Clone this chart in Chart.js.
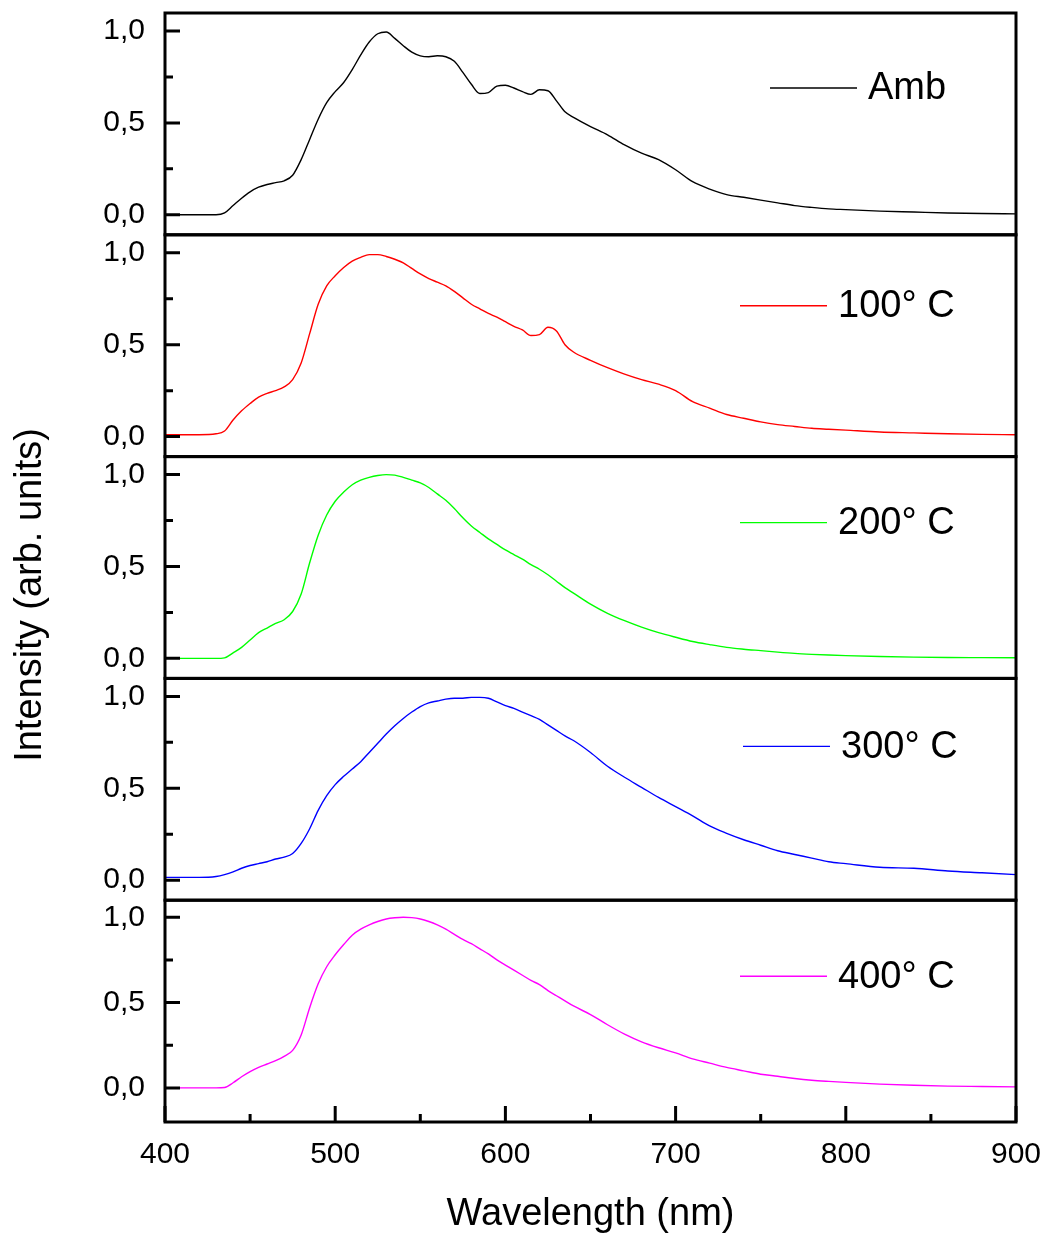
<!DOCTYPE html>
<html>
<head>
<meta charset="utf-8">
<script src="https://cdn.jsdelivr.net/npm/chart.js@4"></script>
<style>
  html, body { margin: 0; padding: 0; background: #fff; }
  canvas { display: block; }
</style>
</head>
<body>
<canvas id="spectra" width="1045" height="1237"></canvas>
<script>
// Wavelength grid (nm) shared by all spectra
const wavelength = [400, 410, 420, 430, 435, 440, 445, 450, 455, 460, 465, 470, 475, 480, 485, 490, 495,
  500, 505, 510, 515, 520, 525, 530, 535, 540, 545, 550, 555, 560, 565, 570, 575, 580, 585, 590, 595,
  600, 605, 610, 615, 620, 625, 630, 635, 640, 650, 660, 670, 680, 690, 700, 710, 720, 730, 740, 750,
  760, 770, 780, 790, 800, 820, 840, 860, 880, 900];

// Normalised intensity
const amb = [0.0, 0.0, 0.0, 0.0, 0.01, 0.05, 0.09, 0.125, 0.15, 0.165, 0.175, 0.185, 0.215, 0.30, 0.41, 0.52, 0.61,
  0.67, 0.72, 0.79, 0.87, 0.94, 0.985, 0.995, 0.96, 0.92, 0.885, 0.865, 0.86, 0.865, 0.86, 0.835, 0.775, 0.71, 0.66, 0.665, 0.70,
  0.705, 0.69, 0.67, 0.655, 0.68, 0.675, 0.62, 0.56, 0.53, 0.48, 0.435, 0.38, 0.335, 0.30, 0.245, 0.18, 0.14, 0.11, 0.095, 0.08,
  0.065, 0.05, 0.04, 0.032, 0.028, 0.02, 0.015, 0.01, 0.007, 0.005];

const t100 = [0.01, 0.01, 0.01, 0.015, 0.03, 0.09, 0.14, 0.18, 0.215, 0.235, 0.25, 0.27, 0.31, 0.40, 0.56, 0.72, 0.82,
  0.875, 0.92, 0.955, 0.975, 0.99, 0.99, 0.98, 0.965, 0.945, 0.915, 0.885, 0.86, 0.84, 0.82, 0.79, 0.755, 0.72, 0.695, 0.67, 0.65,
  0.625, 0.60, 0.58, 0.55, 0.555, 0.595, 0.575, 0.50, 0.46, 0.415, 0.375, 0.34, 0.31, 0.285, 0.25, 0.19, 0.155, 0.12, 0.10, 0.08,
  0.065, 0.055, 0.045, 0.04, 0.035, 0.025, 0.02, 0.015, 0.012, 0.01];

const t200 = [0.0, 0.0, 0.0, 0.0, 0.003, 0.03, 0.06, 0.10, 0.14, 0.165, 0.19, 0.21, 0.255, 0.35, 0.52, 0.67, 0.78,
  0.855, 0.905, 0.945, 0.97, 0.985, 0.995, 1.0, 0.997, 0.985, 0.97, 0.955, 0.93, 0.895, 0.86, 0.815, 0.765, 0.72, 0.685, 0.65, 0.62,
  0.59, 0.565, 0.54, 0.51, 0.485, 0.455, 0.42, 0.385, 0.355, 0.295, 0.245, 0.205, 0.17, 0.14, 0.115, 0.092, 0.075, 0.06, 0.05, 0.042,
  0.034, 0.027, 0.022, 0.018, 0.015, 0.01, 0.007, 0.005, 0.004, 0.003];

const t300 = [0.015, 0.015, 0.015, 0.02, 0.03, 0.045, 0.065, 0.08, 0.09, 0.10, 0.115, 0.125, 0.145, 0.20, 0.28, 0.38, 0.46,
  0.52, 0.565, 0.605, 0.645, 0.695, 0.745, 0.795, 0.84, 0.88, 0.915, 0.945, 0.965, 0.975, 0.985, 0.99, 0.99, 0.995, 0.995, 0.99, 0.97,
  0.95, 0.935, 0.915, 0.895, 0.875, 0.845, 0.815, 0.785, 0.76, 0.695, 0.62, 0.56, 0.505, 0.45, 0.40, 0.35, 0.295, 0.255, 0.22, 0.19,
  0.16, 0.14, 0.12, 0.10, 0.09, 0.07, 0.065, 0.05, 0.04, 0.03];

const t400 = [0.0, 0.0, 0.0, 0.0, 0.002, 0.03, 0.065, 0.095, 0.12, 0.14, 0.16, 0.185, 0.22, 0.31, 0.47, 0.61, 0.71,
  0.78, 0.84, 0.895, 0.93, 0.955, 0.975, 0.99, 0.997, 1.0, 0.998, 0.99, 0.975, 0.955, 0.93, 0.90, 0.87, 0.845, 0.815, 0.785, 0.75,
  0.72, 0.69, 0.66, 0.63, 0.605, 0.57, 0.54, 0.51, 0.48, 0.43, 0.37, 0.315, 0.27, 0.235, 0.205, 0.17, 0.145, 0.12, 0.10, 0.08,
  0.068, 0.055, 0.045, 0.038, 0.032, 0.022, 0.015, 0.01, 0.008, 0.006];

const seriesLabels = ['Amb', '100° C', '200° C', '300° C', '400° C'];
const seriesValues = [amb, t100, t200, t300, t400];
const seriesColors = ['#000000', '#ff0000', '#00ff00', '#0000ff', '#ff00ff'];
const yTickValues = [0, 0.5, 1];
const yMinorValues = [0.25, 0.75];
const xTickValues = [400, 500, 600, 700, 800, 900];
const xMinorValues = [450, 550, 650, 750, 850];

const FONT = 'Liberation Sans, Arial, sans-serif';
// panel y ranges (the last panel has more room below zero)
const yRanges = [[-0.109, 1.098], [-0.109, 1.098], [-0.109, 1.098], [-0.109, 1.098], [-0.20, 1.10]];
// legend placement inside each panel: [line start x, offset from panel top]
const legendPos = [[770, 75], [740, 71], [740, 66], [743, 68], [740, 76]];

const scales = {
  x: {
    type: 'linear', position: 'bottom', min: 400, max: 900,
    grid: { display: false, drawTicks: false }, border: { display: false },
    ticks: { stepSize: 100, color: '#000', font: { family: FONT, size: 30 }, padding: 15, maxRotation: 0 },
    afterBuildTicks: s => { s.ticks = xTickValues.map(v => ({ value: v })); },
    afterFit: s => { s.height = 115; s.paddingLeft = 0; s.paddingRight = 0; }
  }
};
seriesLabels.forEach((lab, i) => {
  scales['y' + i] = {
    type: 'linear', position: 'left', stack: 'panels', stackWeight: 1, weight: 10 - i,
    min: yRanges[i][0], max: yRanges[i][1],
    grid: { display: false, drawTicks: false }, border: { display: false },
    ticks: {
      color: '#000', font: { family: FONT, size: 30 }, padding: 20,
      callback: v => v.toFixed(1).replace('.', ',')
    },
    afterBuildTicks: s => { s.ticks = yTickValues.map(v => ({ value: v })); },
    afterFit: s => { s.width = 165; s.paddingTop = 0; s.paddingBottom = 0; }
  };
});

const datasets = seriesLabels.map((lab, i) => ({
  label: lab,
  data: wavelength.map((w, k) => ({ x: w, y: seriesValues[i][k] })),
  yAxisID: 'y' + i,
  borderColor: seriesColors[i],
  borderWidth: 1.4,
  pointRadius: 0,
  cubicInterpolationMode: 'monotone',
  fill: false
}));

// frames, inward ticks, in-panel legends and axis titles
const decorations = {
  id: 'decorations',
  afterDraw(chart) {
    const ctx = chart.ctx;
    const xs = chart.scales.x;
    ctx.save();
    ctx.strokeStyle = '#000';
    ctx.lineWidth = 3;
    seriesLabels.forEach((lab, i) => {
      const ys = chart.scales['y' + i];
      ctx.strokeRect(xs.left, ys.top, xs.right - xs.left, ys.bottom - ys.top);
      ctx.beginPath();
      yTickValues.forEach(v => {
        const p = ys.getPixelForValue(v);
        ctx.moveTo(xs.left, p); ctx.lineTo(xs.left + 15, p);
      });
      yMinorValues.forEach(v => {
        const p = ys.getPixelForValue(v);
        ctx.moveTo(xs.left, p); ctx.lineTo(xs.left + 8, p);
      });
      ctx.stroke();

      // legend
      const [lx, off] = legendPos[i];
      const ly = ys.top + off;
      ctx.strokeStyle = seriesColors[i];
      ctx.lineWidth = 1.4;
      ctx.beginPath();
      ctx.moveTo(lx, ly); ctx.lineTo(lx + 87, ly);
      ctx.stroke();
      ctx.fillStyle = '#000';
      ctx.font = '38px ' + FONT;
      ctx.textBaseline = 'middle';
      ctx.textAlign = 'left';
      ctx.fillText(lab, lx + 98, ly + 1);
      ctx.strokeStyle = '#000';
      ctx.lineWidth = 3;
    });

    // bottom axis ticks, pointing inward
    const bottom = chart.scales['y' + (seriesLabels.length - 1)].bottom;
    ctx.beginPath();
    xTickValues.forEach(v => {
      const p = xs.getPixelForValue(v);
      ctx.moveTo(p, bottom); ctx.lineTo(p, bottom - 16);
    });
    xMinorValues.forEach(v => {
      const p = xs.getPixelForValue(v);
      ctx.moveTo(p, bottom); ctx.lineTo(p, bottom - 8);
    });
    ctx.stroke();

    // axis titles
    ctx.fillStyle = '#000';
    ctx.font = '38px ' + FONT;
    ctx.textAlign = 'center';
    ctx.textBaseline = 'middle';
    ctx.fillText('Wavelength (nm)', (xs.left + xs.right) / 2, 1215);
    ctx.translate(31, 595);
    ctx.rotate(-Math.PI / 2);
    ctx.fillText('Intensity (arb. units)', 0, 0);
    ctx.restore();
  }
};

new Chart(document.getElementById('spectra').getContext('2d'), {
  type: 'line',
  data: { datasets: datasets },
  options: {
    responsive: false,
    animation: false,
    events: [],
    layout: { padding: { top: 13, right: 29, left: 0, bottom: 0 } },
    plugins: { legend: { display: false }, tooltip: { enabled: false } },
    scales: scales
  },
  plugins: [decorations]
});
</script>
</body>
</html>
